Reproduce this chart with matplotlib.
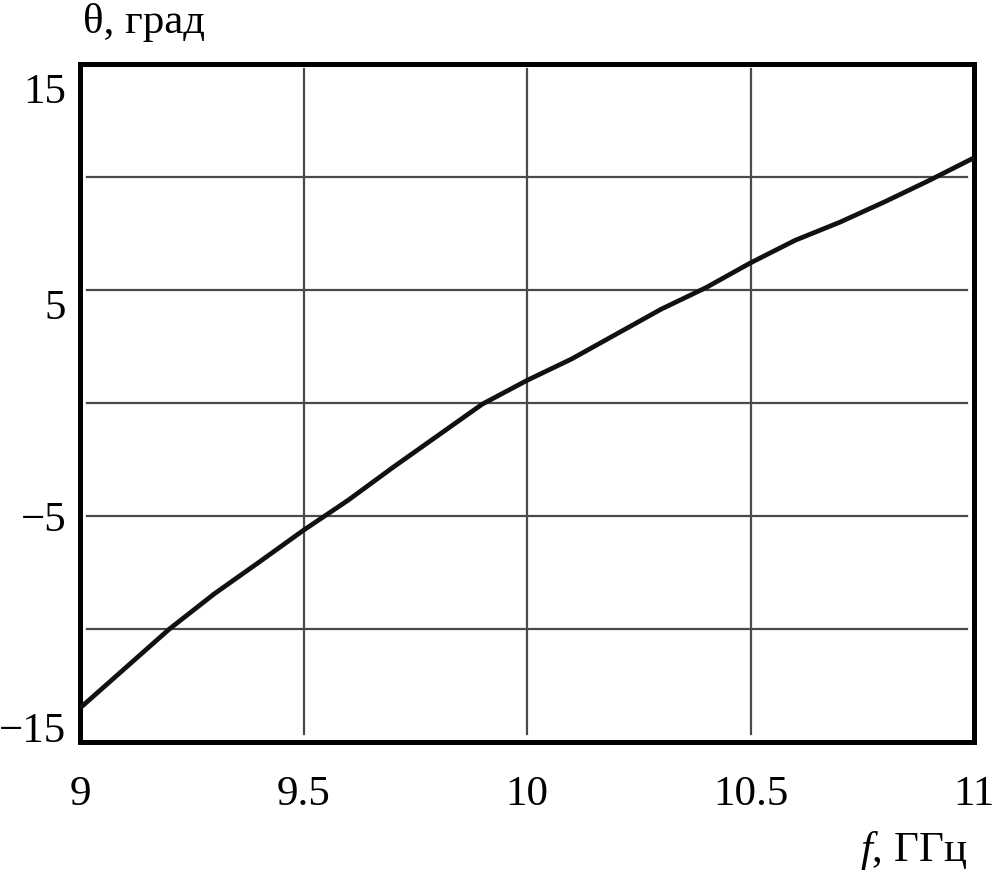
import numpy as np
import matplotlib
matplotlib.use('Agg')
import matplotlib.pyplot as plt
import matplotlib.transforms as mtransforms

# frequency, GHz and angle, degrees
freq = [9.0, 9.1, 9.2, 9.3, 9.4, 9.5, 9.6, 9.7, 9.8, 9.9, 10.0,
        10.1, 10.2, 10.3, 10.4, 10.5, 10.6, 10.7, 10.8, 10.9, 11.0]
theta = [-13.5, -11.75, -10.0, -8.45, -7.05, -5.63, -4.3, -2.85, -1.45, -0.05, 1.0,
         1.95, 3.05, 4.15, 5.1, 6.2, 7.2, 8.0, 8.9, 9.85, 10.85]

grid_x = [9.5, 10.0, 10.5]
grid_y = [-10, -5, 0, 5, 10]
xticks = [9, 9.5, 10, 10.5, 11]
xtick_labels = ['9', '9.5', '10', '10.5', '11']
yticks = [15, 5, -5, -15]
ytick_labels = ['15', '5', '\u22125', '\u221215']

plt.rcParams['font.family'] = ['Liberation Serif', 'DejaVu Serif']
plt.rcParams['mathtext.fontset'] = 'custom'
plt.rcParams['mathtext.it'] = 'Liberation Serif:italic'
plt.rcParams['mathtext.rm'] = 'Liberation Serif'

W, H = 999, 891
fig = plt.figure(figsize=(W / 100, H / 100), dpi=100)
ax = fig.add_axes([80 / W, 1 - 742 / H, (974 - 80) / W, (742 - 64) / H])

ax.set_xlim(9, 11)
ax.set_ylim(-15, 15)

for gx in grid_x:
    ax.axvline(gx, ymin=0.012, ymax=0.992, color='#4a4a4a', linewidth=1.6, zorder=1)
for gy in grid_y:
    ax.axhline(gy, xmin=0.008, xmax=0.992, color='#4a4a4a', linewidth=1.6, zorder=1)

ax.plot(freq, theta, color='#111111', linewidth=3.4, zorder=3,
        solid_capstyle='butt')

for sp in ax.spines.values():
    sp.set_linewidth(3.6)
    sp.set_color('black')

ax.set_xticks(xticks)
ax.set_xticklabels(xtick_labels)
ax.set_yticks(yticks)
ax.set_yticklabels(ytick_labels)
ax.tick_params(axis='both', length=0, labelsize=31)
ax.tick_params(axis='x', pad=24)
ax.tick_params(axis='y', pad=10)

# nudge y labels like in the original drawing
shifts = {'15': -24, '5': -14, '\u22125': 0, '\u221215': 15}
for lab in ax.get_yticklabels():
    dy = shifts.get(lab.get_text(), 0)
    lab.set_transform(lab.get_transform() +
                      mtransforms.ScaledTranslation(0, dy / 100, fig.dpi_scale_trans))

fig.text(83 / W, 1 - 22 / H, '\u03b8, град', fontsize=31, ha='left', va='center')
fig.text(967 / W, 1 - 850 / H, '$f$, ГГц', fontsize=31, ha='right', va='center')

fig.savefig('out.png', dpi=100, facecolor='white')
